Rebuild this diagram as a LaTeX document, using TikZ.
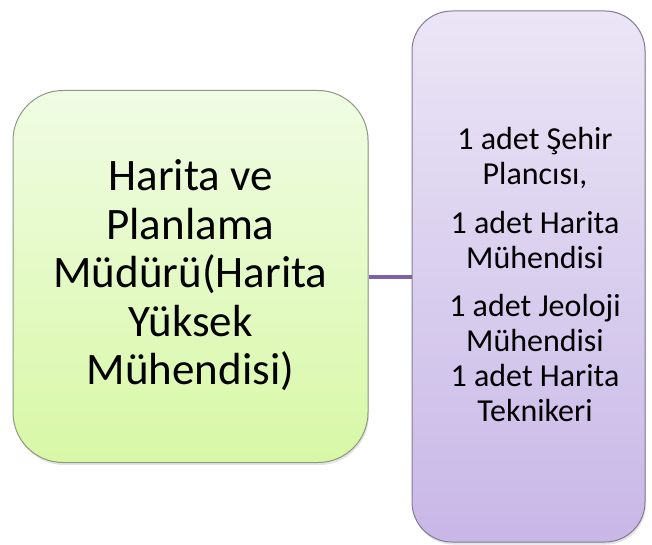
\documentclass[tikz,border=0pt]{standalone}
\usepackage{fontspec}
\setmainfont{Carlito}
\usetikzlibrary{shadows}
\definecolor{greentop}{HTML}{F0FCE4}
\definecolor{greenbot}{HTML}{D8F8A6}
\definecolor{greenline}{HTML}{8C9A80}
\definecolor{purpletop}{HTML}{EBE6F6}
\definecolor{purplebot}{HTML}{C8B7E7}
\definecolor{purpleline}{HTML}{857A93}
\definecolor{connline}{HTML}{7D62A8}
\begin{document}
\begin{tikzpicture}[x=1pt,y=-1pt,
  card/.style={inner sep=0pt, line width=1pt,
    drop shadow={opacity=0.22, shadow xshift=1pt, shadow yshift=-2.5pt}},
  mgrbox/.style={card, draw=greenline, top color=greentop, bottom color=greenbot,
    rounded corners=50pt, minimum width=355pt, minimum height=372pt},
  staffbox/.style={card, draw=purpleline, top color=purpletop, bottom color=purplebot,
    rounded corners=40pt, minimum width=233pt, minimum height=531pt},
  bigtext/.style={align=center, font=\fontsize{45}{48.5}\selectfont, inner sep=0pt},
  smalltext/.style={align=center, font=\fontsize{32}{35}\selectfont, inner sep=0pt},
  conn/.style={draw=connline, line width=4pt}]
\useasboundingbox (0,0) rectangle (652,545);
\node[mgrbox] (mgr) at (190.5,276.5) {};
\node[staffbox] (staff) at (528.5,276.5) {};
\draw[conn] (mgr.east) -- (staff.west);
\node[bigtext, anchor=base] (mgrtext) at (190.5,384.5) {Harita ve\\Planlama\\Müdürü(Harita\\Yüksek\\Mühendisi)};
\node[smalltext, anchor=base] (stafftext) at (535,421.5) {1 adet Şehir\\Plancısı,\\[14pt]1 adet Harita\\Mühendisi\\[13pt]1 adet Jeoloji\\Mühendisi\\1 adet Harita\\Teknikeri};
\end{tikzpicture}
\end{document}
